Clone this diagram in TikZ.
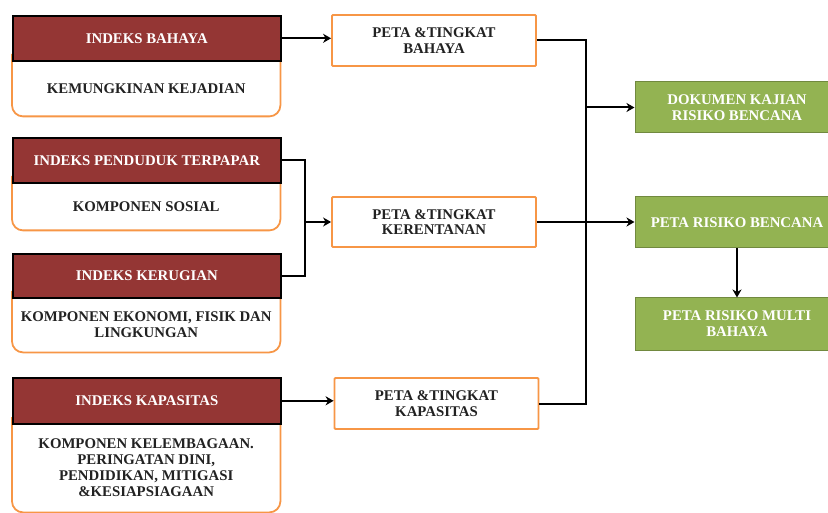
\documentclass[tikz,border=0pt]{standalone}
\usepackage{fontspec}
\setmainfont{Liberation Serif}
\usetikzlibrary{arrows.meta,calc,backgrounds}
\definecolor{maroon}{HTML}{943634}
\definecolor{orangeline}{HTML}{F79646}
\definecolor{greenfill}{HTML}{93B352}
\definecolor{greenline}{HTML}{71893F}
\definecolor{bodytext}{HTML}{222222}
\newcommand{\boxfont}{\bfseries\fontsize{14.8}{15.8}\selectfont}
\tikzset{
  header/.style={draw=black, line width=1.6pt, fill=maroon, text=white,
    font=\boxfont, minimum width=268pt, inner sep=0pt, anchor=north west},
  bodybox/.style={minimum width=268pt, inner sep=0pt, align=center,
    font=\boxfont, text=bodytext, anchor=north west},
  bodyframe/.style={draw=orangeline, line width=1.8pt, fill=white, rounded corners=11pt},
  midbox/.style={draw=orangeline, line width=1.8pt, fill=white, minimum width=204pt,
    minimum height=51pt, inner sep=0pt, align=center, font=\boxfont, text=bodytext,
    rounded corners=1pt},
  resultbox/.style={draw=greenline, line width=1pt, fill=greenfill, minimum width=204pt,
    minimum height=51pt, inner sep=0pt, align=center, font=\boxfont, text=white},
  conn/.style={line width=2pt, black},
  arrow/.style={conn, -{Stealth[length=8pt,width=9pt,inset=2.5pt]}}
}
\begin{document}
\begin{tikzpicture}[x=1pt,y=-1pt]
\useasboundingbox (0,0) rectangle (828,513);
\clip (0,0) rectangle (828,513);

% body areas of the index blocks
\node[bodybox, minimum height=56pt] (b1) at (12,60) {KEMUNGKINAN KEJADIAN};
\node[bodybox, minimum height=48pt] (b2) at (12,182) {KOMPONEN SOSIAL};
\node[bodybox, minimum height=55pt] (b3) at (12,297) {KOMPONEN EKONOMI, FISIK DAN\\LINGKUNGAN};
\node[bodybox, minimum height=89pt] (b4) at (12,423) {KOMPONEN KELEMBAGAAN.\\PERINGATAN DINI,\\PENDIDIKAN, MITIGASI\\\&KESIAPSIAGAAN};

% rounded frames behind the body texts
\begin{scope}[on background layer]
\foreach \b in {b1,b2,b3,b4}{
  \draw[bodyframe] ($(\b.north west)+(0,-6)$) -- (\b.south west) -- (\b.south east) -- ($(\b.north east)+(0,-6)$);
}
\end{scope}

% index headers
\node[header, minimum height=45pt] (h1) at (12,15) {INDEKS BAHAYA};
\node[header, minimum height=45pt] (h2) at (12,137) {INDEKS PENDUDUK TERPAPAR};
\node[header, minimum height=44pt] (h3) at (12,253) {INDEKS KERUGIAN};
\node[header, minimum height=46pt] (h4) at (12,377) {INDEKS KAPASITAS};

% maps and levels
\node[midbox] (m1) at (434,40.5) {PETA \&TINGKAT\\BAHAYA};
\node[midbox, minimum height=50pt] (m2) at (434,222) {PETA \&TINGKAT\\KERENTANAN};
\node[midbox] (m3) at (436.5,403.5) {PETA \&TINGKAT\\KAPASITAS};

% results
\node[resultbox] (g1) at (737,107.5) {DOKUMEN KAJIAN\\RISIKO BENCANA};
\node[resultbox] (g2) at (737,222.5) {PETA RISIKO BENCANA};
\node[resultbox, minimum height=52pt] (g3) at (737,324) {PETA RISIKO MULTI\\BAHAYA};

% connectors
\coordinate (busl) at (305,222);
\coordinate (busr) at (586,107.5);
\draw[arrow] (h1.east) -- (h1.east -| m1.west);
\draw[conn] (h2.east) -| (busl) |- (h3.east);
\draw[arrow] (busl) -- (busl -| m2.west);
\draw[arrow] (h4.east) -- (h4.east -| m3.west);
\draw[conn] (m1.east) -| (busr) |- (m3.east);
\draw[arrow] (busr) -- (busr -| g1.west);
\draw[arrow] (m2.east) -- (m2.east -| g2.west);
\draw[arrow] (g2.south) -- (g3.north);
\end{tikzpicture}
\end{document}
